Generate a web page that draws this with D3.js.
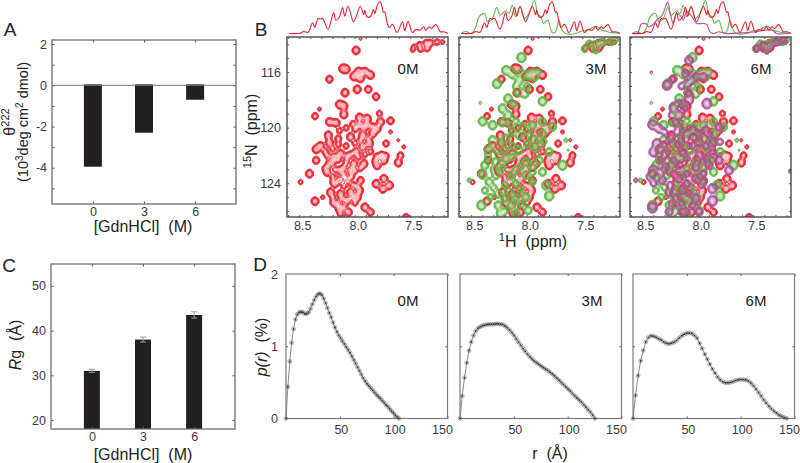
<!DOCTYPE html>
<html><head><meta charset="utf-8">
<script src="https://cdnjs.cloudflare.com/ajax/libs/d3/7.8.5/d3.min.js"></script>
<style>
html,body{margin:0;padding:0;background:#fff}
svg{display:block}
text{font-family:"Liberation Sans",Arial,sans-serif;white-space:pre}
</style></head><body><svg id="c" width="800" height="463"></svg>
<script>
// ---------- bars ----------
const denaturant=[0,3,6];
const theta222=[-3.95,-2.3,-0.7];
const rg=[31,38,43.5];
const rgErr=[0.35,0.55,0.7];
// ---------- p(r) ----------
const pr0Step=1.75, pr3Step=2.09, pr6Step=2.38;
const pr0=[0,.44,.79,1.05,1.24,1.37,1.44,1.47,1.475,1.47,1.45,1.45,1.47,1.52,1.58,1.64,1.69,1.72,1.73,1.71,1.66,1.6,1.53,1.46,1.4,1.33,1.26,1.2,1.15,1.11,1.07,1.03,.99,.95,.91,.86,.81,.76,.71,.66,.61,.56,.52,.48,.45,.42,.39,.36,.33,.305,.28,.25,.22,.19,.165,.135,.105,.075,.045,.02,0];
const pr3=[0,.31,.565,.77,.94,1.06,1.15,1.21,1.25,1.27,1.285,1.295,1.3,1.305,1.305,1.305,1.31,1.31,1.305,1.3,1.28,1.255,1.225,1.19,1.15,1.105,1.06,1.015,.97,.93,.89,.855,.825,.795,.77,.75,.725,.705,.685,.665,.64,.615,.59,.56,.53,.5,.47,.44,.41,.38,.345,.315,.285,.255,.225,.19,.155,.12,.085,.045,0];
const pr6=[0,.32,.595,.8,.94,1.06,1.12,1.145,1.14,1.125,1.105,1.085,1.06,1.04,1.035,1.04,1.055,1.08,1.115,1.145,1.165,1.18,1.185,1.175,1.15,1.11,1.04,.97,.89,.82,.75,.685,.63,.575,.535,.51,.495,.495,.5,.51,.525,.535,.54,.54,.535,.52,.49,.455,.41,.36,.31,.26,.215,.17,.135,.1,.075,.05,.03,.015,0];
// ---------- 1D traces: shift (ppm), intensity ----------
const redH=[8.59,8.49,8.46,8.42,8.38,8.36,8.33,8.31,8.29,8.24,8.19,8.17,8.14,8.11,8.09,8.06,8.01,7.95,7.92,7.91,7.89,7.86,7.83,7.82,7.79,7.77,7.74,7.73,7.71,7.69,7.66,7.62,7.57,7.55,7.52,7.48,7.45,7.41,7.38,7.36,7.33,7.31,7.27,7.23,7.2,7.16];
const redI=[0,.3,2,1.3,10.7,6,15,14.3,15.3,4.3,21,13.3,16,26,17.3,27.3,11.7,27.3,18.7,23.3,16.7,16.7,24,20,30,31.7,21,21.7,11.7,6,9.3,1,11.7,2.7,12.3,1,4,3.3,6.7,3.3,6.7,5,9,1.7,1.7,0];
const greenH=[8.59,8.55,8.5,8.46,8.43,8.38,8.35,8.31,8.27,8.24,8.19,8.16,8.13,8.1,8.06,8.02,7.98,7.93,7.9,7.87,7.85,7.81,7.77,7.74,7.71,7.68,7.65,7.56,7.5,7.44,7.38,7.32,7.27,7.23,7.17];
const greenI=[0,2,0,6,16.7,20,11.7,15,26,18.3,22.7,20,28.3,16.7,26.7,15,20,33,19.3,16.7,10,13.3,.7,1.7,13.3,3.3,0,0,2.7,4,7.3,3.3,1.7,.7,.3];
const purpleH=[8.59,8.54,8.51,8.47,8.44,8.41,8.37,8.32,8.29,8.27,8.25,8.22,8.19,8.16,8.13,8.1,8.05,8.01,7.96,7.92,7.89,7.86,7.81,7.75,7.6,7.48,7.39,7.33,7.29,7.18];
const purpleI=[0,.7,9.3,10,6.7,8.3,13.3,18.3,26.7,31.7,21.7,10,20,18.3,13.3,21.7,16.7,10,10,9.3,1.7,0,1.7,0,.7,1.7,3.3,3.3,0,0];
// ---------- HSQC peaks: 1H, 15N, relative height ----------
const redPeaks=[[7.99,114.43,1],[8.11,115.73,1],[8.08,115.78,1],[8.23,116.5,.9],[7.97,115.95,1],[7.91,115.95,1],[7.86,116.2,1],[8.01,116.3,1],[7.95,116.43,1],[7.98,117.23,1],[7.88,117.23,.9],[8.09,117.47,1],[7.81,117.76,.9],[8.14,118.31,1],[8.1,118.43,1],[8.36,119.16,.8],[8.32,118.65,.45],[8.1,119.04,1],[7.96,119.25,1],[7.89,119.33,1],[7.78,118.96,.7],[8.23,119.57,1],[8.17,119.64,1],[7.96,119.81,1],[7.89,119.81,1],[7.77,119.57,1],[7.68,119.49,.9],[8.24,120.53,1],[8.15,120.77,.8],[8.04,120.65,1],[7.93,120.53,1],[7.8,120.05,1],[7.84,120.41,1],[7.72,121.13,.8],[7.68,120.29,.45],[7.61,120.89,.36],[7.56,121.37,.45],[7.59,121.98,.8],[7.61,122.5,1],[8.35,121.54,1],[8.31,121.3,1],[8.23,121.08,1],[8.19,122.1,1],[8.23,122.58,1],[8.13,121.86,1],[8.07,122.1,.9],[7.99,121.73,1],[7.93,121.37,1],[7.87,121.13,1],[7.8,122.1,.9],[7.74,122.34,1],[8.01,122.58,1],[7.92,122.58,1],[8.13,123.06,1],[8.04,123.06,1],[7.8,122.7,1],[8.35,122.34,.9],[8.41,123.3,1],[8.49,123.9,.55],[8.25,123.18,1],[8.14,123.78,1],[8.07,123.78,1],[7.95,123.78,.9],[7.81,124.02,1],[7.74,123.66,1],[7.69,124.14,1],[7.75,124.39,1],[8.22,124.63,1],[8.13,124.75,1],[8.04,124.63,1],[7.96,124.51,1],[8.36,125.28,1],[8.29,124.99,.5],[8.16,125.47,1],[8.07,125.23,1],[7.98,124.99,1],[7.91,125.71,1],[7.86,126.07,.9],[8.06,126.07,1],[8.14,125.83,1],[7.54,126.48,1],[7.48,114.39,.55],[7.42,114.02,.7],[7.36,113.9,.8],[7.32,113.9,.8],[7.26,113.83,.7],[7.21,113.83,.5],[7.41,114.34,.7],[7.35,114.27,.8],[7.47,114.14,.5],[7.95,113.6,.35],
[8.02,119.7,.7],[8.08,120,.7],[8.14,120.2,.7],[8,120.1,.7],[7.92,120,.7],[7.84,119.9,.7],[7.95,120.9,.7],[7.88,120.8,.7],[8,121.1,.7],[8.08,121.3,.7],[8.15,121.2,.7],[8.2,121.5,.7],[8.27,121.7,.7],[8.25,122,.7],[8.2,122.5,.7],[8.15,122.3,.7],[8.08,122.5,.7],[8.04,121.9,.7],[7.97,122.1,.7],[7.91,121.9,.7],[7.86,121.7,.7],[7.82,122.4,.7],[7.76,121.9,.7],[7.72,122,.7],[7.95,122.9,.7],[8.18,123,.7],[8.1,122.85,.7],[8,123.1,.7],[8.2,123.5,.7],[8.1,123.4,.7],[8.03,123.5,.7],[8.18,124.1,.7],[8.1,124.2,.7],[8.02,124.1,.7],[7.98,124.2,.7],[8.2,125,.7],[8.12,125.1,.7],[8.02,125,.7],[8.2,125.4,.7],[8.1,125.7,.7],[8,125.4,.7],[8.13,126.2,.7],[8.2,123.9,.7],[8.27,122.9,.7]];
const greenPeaks=[[8.05,114.94,1.2],[8.27,116.82,1.2],[8.19,115.86,1.1],[8.14,115.98,1.1],[8.07,116.58,1.1],[7.99,116.22,1],[7.93,116.34,1],[7.9,115.98,.7],[8.02,117.53,1.1],[8.08,117.41,1.1],[7.86,118.09,1.1],[8.17,117.89,1.1],[8.22,118.61,1.1],[8.17,119.09,1.1],[8.4,119.53,1.1],[8.31,119.81,1.1],[8.22,119.62,1],[8.04,119.93,1],[7.95,119.81,1],[7.86,119.57,1],[7.77,119.93,1],[7.86,120.41,1],[8.31,120.89,1.1],[8.25,121.13,1],[8.19,120.77,1],[8.07,120.53,1],[7.95,120.77,1],[8.35,121.61,1],[8.26,121.61,1],[8.07,121.61,1],[7.92,121.49,1],[7.8,121.73,1],[8.28,122.45,1],[8.19,122.21,1],[8.01,122.45,1],[7.89,122.33,1],[8.38,122.69,1],[7.68,122.69,1.2],[8.4,123.36,1.1],[8.28,123.41,1],[8.14,123.41,1],[8.01,123.41,1],[7.86,123.17,1],[8.52,123.77,.5],[8.34,123.89,1],[7.83,124.13,1.1],[7.8,124.9,1.2],[8.26,124.73,1],[8.16,124.61,1],[8.01,124.97,1],[8.41,125.57,1.2],[8.26,125.57,1],[8.14,125.57,1],[7.99,125.93,1],[8.24,126.17,1],[8.1,126.17,1],[8.42,118.2,.35],[7.65,120.89,.45],[7.63,121.6,.3],[7.48,114.3,.8],[7.44,113.94,.8],[7.38,114,.9],[7.32,113.82,.9],[7.24,113.82,.8],[7.2,113.63,.7],[7.38,114.42,.8],
[8.35,122.1,.8],[8.3,121.3,.8],[8.2,121.6,.8],[8.13,121.3,.8],[8.13,120.3,.8],[8,120.3,.8],[8,121.2,.8],[7.93,121,.8],[7.85,121,.8],[8.13,122.1,.8],[8.06,122.8,.8],[7.95,122.8,.8],[8.22,122.9,.8],[8.1,123,.8],[8.3,123,.8],[7.95,123.9,.8],[8.1,124,.8],[8.2,124.1,.8],[8.3,124.3,.8],[8.06,124.4,.8],[8.2,125.1,.8],[8.1,125,.8],[8.33,125,.8],[8.05,125.5,.8],[8.2,126,.8],[7.95,123.2,.8],[8.38,124.5,.8],[8.15,119.8,.8],[8.1,119.5,.8],[8.13,116.2,.8],[8.05,116,.8],[7.95,116,.8],[8.1,117,.8],[8,117,.8],[8.12,118.3,.8]];
const purplePeaks=[[8.08,115.14,1.1],[8.28,116.94,1.2],[8.22,116.46,.9],[8.11,116.1,1],[8.02,116.34,1],[7.95,116.34,1],[8.1,116.82,1],[8.42,116,.35],[7.92,118.25,1.3],[8.08,117.65,1.1],[8.08,118.01,1.1],[8.22,118.49,1.1],[8.17,119.09,1.1],[8.23,119.09,1],[8.41,119.77,1.2],[8.35,120.05,1.1],[8.17,120.05,1],[8.05,120.17,1],[7.93,120.17,1],[7.81,119.93,1],[8.37,121.13,1.2],[8.25,120.77,1],[8.11,120.77,1],[7.99,121.01,1],[7.86,121.01,1],[8.4,121.73,1.2],[8.29,121.85,1],[8.14,121.73,1],[7.99,121.97,1],[7.87,121.85,1],[8.4,123.05,1.3],[8.29,122.81,1],[8.17,122.69,1],[8.02,122.81,1],[7.9,122.69,1],[7.81,122.33,1],[7.72,123.05,1.1],[8.43,123.53,1],[8.32,123.77,1],[8.17,123.65,1],[8.02,123.65,1],[8.56,123.77,.5],[7.87,124.37,1.2],[8.26,124.61,1],[8.14,124.49,1],[8.02,125.09,1.1],[7.87,125.26,1.3],[8.41,125.74,1.3],[8.23,125.45,1],[8.26,126.05,1],[8.11,126.05,1],[7.99,126.05,1],[7.16,123.12,.6],[7.47,114.3,.8],[7.41,114.06,.8],[7.35,114.1,.9],[7.29,113.82,.9],[7.23,113.7,.8],[7.38,114.42,.8],
[8.3,120.3,.8],[8.2,120.4,.8],[8.1,120.4,.8],[8,120.4,.8],[7.9,120.5,.8],[8.3,121.2,.8],[8.18,121.2,.8],[8.05,121.3,.8],[7.93,121.3,.8],[7.8,121,.8],[8.33,122.3,.8],[8.22,122.3,.8],[8.1,122.2,.8],[8,122.3,.8],[7.92,122.2,.8],[8.33,123.2,.8],[8.22,123.3,.8],[8.1,123.3,.8],[7.95,123.3,.8],[8.4,124,.8],[8.25,124.1,.8],[8.1,124,.8],[7.97,124.1,.8],[8.2,125,.8],[8.08,124.7,.8],[8.15,125.4,.8],[8.05,125.6,.8],[8.15,126.1,.8],[7.95,123.9,.8],[8.15,117,.8],[8.05,116.6,.8],[8.12,118.6,.8],[8.17,118.2,.8],[8.2,119.6,.8]];
const RED="#ed1c2b",GREEN="#63b846",PURPLE="#b2509f",INK="#3a3a3a",FRAME="#6e6e6e";

const svg=d3.select("#c");
function frame(b,col,w){svg.append("rect").attr("x",b.x).attr("y",b.y).attr("width",b.w).attr("height",b.h).attr("fill","none").attr("stroke",col).attr("stroke-width",w);}
function sty(g){g.select(".domain").remove();g.selectAll("line").attr("stroke","#555").attr("stroke-width",1);g.selectAll("text").attr("fill",INK).style("font-size","12.5px");return g;}
function ticks(b,x,y,xv,yv,len,xfmt,yfmt){
  sty(svg.append("g").attr("transform",`translate(0,${b.y+b.h})`).call(d3.axisBottom(x).tickValues(xv).tickSizeInner(-len).tickSizeOuter(0).tickPadding(3.5).tickFormat(xfmt||(()=>""))));
  sty(svg.append("g").attr("transform",`translate(0,${b.y})`).call(d3.axisTop(x).tickValues(xv).tickSizeInner(-len).tickSizeOuter(0).tickFormat(()=>"")));
  sty(svg.append("g").attr("transform",`translate(${b.x},0)`).call(d3.axisLeft(y).tickValues(yv).tickSizeInner(-len).tickSizeOuter(0).tickPadding(5).tickFormat(yfmt||(()=>""))));
  sty(svg.append("g").attr("transform",`translate(${b.x+b.w},0)`).call(d3.axisRight(y).tickValues(yv).tickSizeInner(-len).tickSizeOuter(0).tickFormat(()=>"")));
}
function label(t,x,y,size,rot){const s=svg.append("text").attr("text-anchor","middle").attr("dominant-baseline","middle").attr("fill","#222").style("font-size",size+"px");
  s.attr("transform",`translate(${x},${y})`+(rot?` rotate(${rot})`:""));
  t.forEach(p=>{const ts=s.append("tspan").text(p.t);if(p.i)ts.style("font-style","italic");if(p.s)ts.attr("dy",p.s);if(p.fs)ts.style("font-size",p.fs+"px");});return s;}

// ---------- A ----------
{const b={x:52,y:40,w:184,h:164};
 const x=d3.scaleLinear().domain([-2.4,8.4]).range([b.x,b.x+b.w]);
 const y=d3.scaleLinear().domain([2.2,-5.76]).range([b.y,b.y+b.h]);
 svg.selectAll(null).data(theta222).join("rect").attr("x",(d,i)=>x(denaturant[i])-9).attr("width",18).attr("y",y(0)-1).attr("height",d=>y(d)-y(0)+1).attr("fill","#231f20");
 svg.append("line").attr("x1",b.x).attr("x2",b.x+b.w).attr("y1",y(0)).attr("y2",y(0)).attr("stroke","#777").attr("stroke-width",1);
 ticks(b,x,y,denaturant,[2,1,0,-1,-2,-3,-4,-5],2.5,d3.format("d"),d=>d%2===0?String(d):"");
 frame(b,FRAME,1.3);
 label([{t:"[GdnHCl]  (M)"}],143,228,16);
 label([{t:"θ"},{t:"222",s:"-5",fs:11}],11,122,16,-90);
 label([{t:"(10"},{t:"3",s:"-4",fs:10},{t:"deg cm",s:"4"},{t:"2",s:"-4",fs:10},{t:" dmol)",s:"4"}],24,122,14.5,-90);
}
// ---------- C ----------
{const b={x:51,y:264,w:184,h:165};
 const x=d3.scaleLinear().domain([-2.4,8.4]).range([b.x,b.x+b.w]);
 const y=d3.scaleLinear().domain([54.9,18]).range([b.y,b.y+b.h]);
 svg.selectAll(null).data(rg).join("rect").attr("x",(d,i)=>x(denaturant[i])-8).attr("width",16).attr("y",d=>y(d)).attr("height",d=>y(18)-y(d)).attr("fill","#231f20");
 rg.forEach((d,i)=>{const cx=x(denaturant[i]),e=rgErr[i];
  [[cx,cx,y(d-e),y(d+e)],[cx-3,cx+3,y(d-e),y(d-e)],[cx-3,cx+3,y(d+e),y(d+e)]].forEach(l=>svg.append("line").attr("x1",l[0]).attr("x2",l[1]).attr("y1",l[2]).attr("y2",l[3]).attr("stroke","#9a9a9a").attr("stroke-width",1));});
 ticks(b,x,y,denaturant,[20,30,40,50],2.5,d3.format("d"),d3.format("d"));
 frame(b,FRAME,1.3);
 label([{t:"[GdnHCl]  (M)"}],143,456,16);
 label([{t:"R",i:1},{t:"g"},{t:"  (Å)"}],17,345,16,-90);
}
// ---------- B ----------
const hsqcH=[8.6,8.5,8.4,8.3,8.2,8.1,8,7.9,7.8,7.7,7.6,7.5,7.4,7.3,7.2];
const hsqcN=[114,115,116,117,118,119,120,121,122,123,124,125,126];
const hsqc=[
 {x:287,name:"0M",tx:408,sets:[[redPeaks,RED]],tr:[[redH,redI,RED]]},
 {x:459,name:"3M",tx:596,sets:[[redPeaks,RED],[greenPeaks,GREEN]],tr:[[greenH,greenI,GREEN],[redH,redI,RED]]},
 {x:630,name:"6M",tx:761,sets:[[redPeaks,RED],[greenPeaks,GREEN],[purplePeaks,PURPLE]],tr:[[greenH,greenI,GREEN],[purpleH,purpleI,PURPLE],[redH,redI,RED]]}];
const LV=[[.2,1,1],[.27,1,1],[.35,1,1],[.44,1,1],[.55,1,.9],[.7,.5,.45],[.85,.5,.45],[1,.5,.45],[1.15,.5,.45],[1.3,.5,.45],[1.5,.5,.45],[1.7,.5,.45],[1.95,.5,.45],[2.2,.5,.45],[2.5,.5,.45]];
hsqc.forEach((p,k)=>{
 const b={x:p.x,y:37,w:161,h:180};
 const x=d3.scaleLinear().domain([8.61,7.16]).range([b.x,b.x+b.w]);
 const y=d3.scaleLinear().domain([113.48,126.43]).range([b.y,b.y+b.h]);
 const S=2,n=b.w*S,m=b.h*S;
 const clipId="clip"+k;
 svg.append("clipPath").attr("id",clipId).append("rect").attr("x",b.x).attr("y",b.y).attr("width",b.w).attr("height",b.h);
 const G=svg.append("g").attr("clip-path",`url(#${clipId})`);
 p.sets.forEach(([peaks,col])=>{
  const grid=new Float32Array(n*m);
  const sx=2.3*S,sy=2.5*S;
  peaks.forEach(([h,nn,w])=>{
   const px=(x(h)-b.x)*S,py=(y(nn)-b.y)*S,sc=Math.sqrt(Math.min(w,1.3));
   const ax=sx*sc,ay=sy*sc;
   for(let j=Math.max(0,Math.floor(py-4*ay));j<Math.min(m,py+4*ay);j++)
    for(let i=Math.max(0,Math.floor(px-4*ax));i<Math.min(n,px+4*ax);i++){
     const dx=(i-px)/ax,dy=(j-py)/ay;
     grid[j*n+i]+=w*Math.exp(-.5*(dx*dx+dy*dy));
    }
  });
  const cs=d3.contours().size([n,m]).smooth(true).thresholds(LV.map(l=>l[0]))(grid);
  const path=d3.geoPath();
  const gg=G.append("g").attr("transform",`translate(${b.x},${b.y}) scale(${1/S})`);
  gg.append("path").attr("d",path(cs[5])).attr("fill",col).attr("fill-opacity",.16).attr("stroke","none");
  gg.selectAll("path.l").data(cs).join("path").attr("class","l")
   .attr("d",path).attr("fill","none").attr("stroke",col)
   .attr("stroke-width",(d,i)=>LV[i][2]*S).attr("stroke-opacity",(d,i)=>LV[i][1]);
 });
 ticks(b,x,y,hsqcH,hsqcN,2,null,null);
 const main=svg.append("g");
 sty(main.append("g").attr("transform",`translate(0,${b.y+b.h})`).call(d3.axisBottom(x).tickValues([8.5,8,7.5]).tickSize(0).tickPadding(4.5).tickFormat(d3.format(".1f")))).selectAll("text").attr("dx",3);
 if(k===0) sty(main.append("g").attr("transform",`translate(${b.x},0)`).call(d3.axisLeft(y).tickValues([116,120,124]).tickSize(0).tickPadding(6)));
 frame(b,"#555",1.5);
 label([{t:p.name}],p.tx,70,15);
 const tx=d3.scaleLinear().domain([0,32]).range([33.5,1.5]);
 const line=d3.line().curve(d3.curveCatmullRom.alpha(.5));
 p.tr.forEach(([hs,is,col])=>{
  svg.append("path").attr("d",line(hs.map((h,i)=>[x(h),tx(is[i])]))).attr("fill","none").attr("stroke",col).attr("stroke-width",1.1);
 });
});
label([{t:"15",s:"-5",fs:11},{t:"N  (ppm)",s:"5"}],253,131,16,-90);
label([{t:"1",s:"-5",fs:11},{t:"H  (ppm)",s:"5"}],533,243,16);
// ---------- D ----------
const dp=[{x:286,d:pr0,st:pr0Step,name:"0M",tx:408},{x:460,d:pr3,st:pr3Step,name:"3M",tx:592},{x:633,d:pr6,st:pr6Step,name:"6M",tx:756}];
dp.forEach((p,k)=>{
 const b={x:p.x,y:274,w:161.5,h:144.5};
 const x=d3.scaleLinear().domain([0,150]).range([b.x,b.x+b.w]);
 const y=d3.scaleLinear().domain([0,2]).range([b.y+b.h,b.y]);
 const pts=p.d.map((v,i)=>[x(i*p.st),y(v)]);
 svg.append("path").attr("d",d3.line()(pts)).attr("fill","none").attr("stroke","#8a8a8a").attr("stroke-width",1);
 ticks(b,x,y,[50,100,150],[1],2,null,null);
 const ax=sty(svg.append("g").attr("transform",`translate(0,${b.y+b.h})`).call(d3.axisBottom(x).tickValues([50,100,150]).tickSize(0).tickPadding(7)));
 ax.selectAll("text").attr("dx",d=>d===150?-5.5:1);
 if(k===0){sty(svg.append("g").attr("transform",`translate(${b.x},0)`).call(d3.axisLeft(y).tickValues([0,1,2]).tickSize(0).tickPadding(8).tickFormat(d3.format("d"))));}
 frame(b,"#7a7a7a",1.2);
 const m=svg.append("g");
 m.selectAll("circle.o").data(pts).join("circle").attr("class","o").attr("cx",d=>d[0]).attr("cy",d=>d[1]).attr("r",1.9).attr("fill","none").attr("stroke","#777").attr("stroke-opacity",.75).attr("stroke-width",.8);
 m.selectAll("circle.c").data(pts).join("circle").attr("class","c").attr("cx",d=>d[0]).attr("cy",d=>d[1]).attr("r",1).attr("fill","#222").attr("fill-opacity",.85);
 label([{t:p.name}],p.tx,302,15);
});
label([{t:"p(r)",i:1},{t:"  (%)"}],263,347,16,-90);
label([{t:"r  (Å)"}],550,455,16);
// ---------- panel letters ----------
[["A",10,31],["B",261,31],["C",9,267],["D",260,266]].forEach(l=>label([{t:l[0]}],l[1],l[2],19));
</script></body></html>
